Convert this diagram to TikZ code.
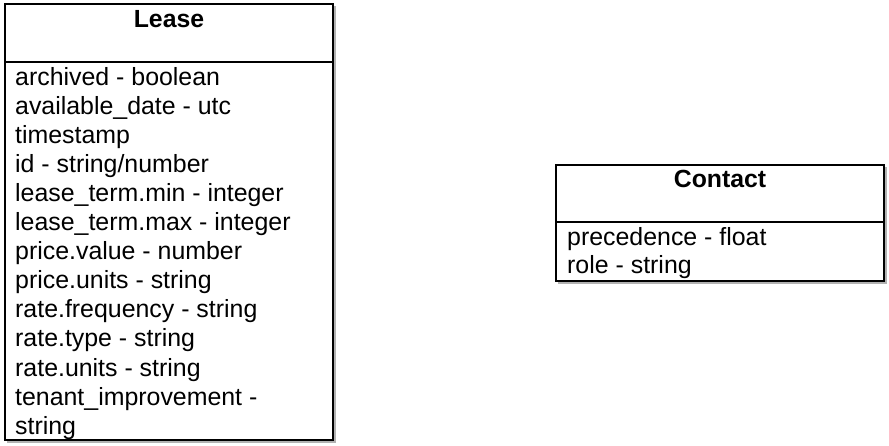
\documentclass[tikz,border=0pt]{standalone}
\usepackage{fontspec}
\setmainfont{Liberation Sans}
\begin{document}
\begin{tikzpicture}[x=1pt,y=-1pt,
  box/.style={draw=black, line width=1.5pt, fill=white},
  shadowbox/.style={fill=black!30, draw=none},
  title/.style={font=\fontsize{24.8}{29}\selectfont\bfseries, inner sep=0pt, anchor=base},
  attr/.style={font=\fontsize{24.9}{29}\selectfont, inner sep=0pt, anchor=base west}]
\useasboundingbox (0,0) rectangle (889,445);
% Lease
\fill[shadowbox] (7,6) rectangle (335.5,442.5);
\path[box] (5,4) rectangle (333,62);
\path[box] (5,62) rectangle (333,440);
\node[title] (leaseTitle) at (169,27) {Lease};
\foreach \t [count=\i from 0] in {archived - boolean, available\_date - utc, timestamp, id - string/number, lease\_term.min - integer, lease\_term.max - integer, price.value - number, price.units - string, rate.frequency - string, rate.type - string, rate.units - string, tenant\_improvement -, string}
  \node[attr] (lease\i) at (15,85+29.1*\i) {\t};
% Contact
\fill[shadowbox] (558,167) rectangle (886.5,283.5);
\path[box] (556,165) rectangle (884,222);
\path[box] (556,222) rectangle (884,281);
\node[title] (contactTitle) at (720,187) {Contact};
\node[attr] (contact0) at (567,245) {precedence - float};
\node[attr] (contact1) at (567,273.5) {role - string};
\end{tikzpicture}
\end{document}
